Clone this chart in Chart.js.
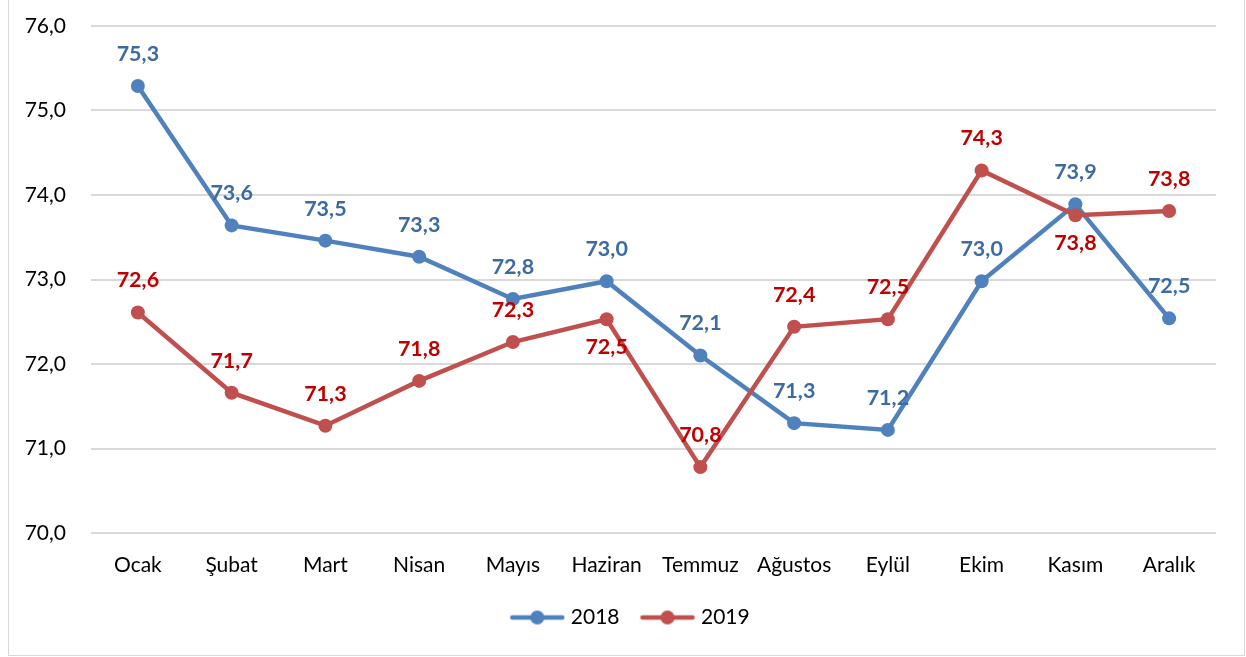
<!DOCTYPE html>
<html>
<head>
<meta charset="utf-8">
<script src="https://cdn.jsdelivr.net/npm/chart.js@4"></script>
<style>
  html, body { margin: 0; padding: 0; background: #fff; }
  #wrap { position: relative; width: 1246px; height: 657px; }
  #frame { position: absolute; left: 8px; top: -4px; width: 1237px; height: 660px; border: 1.5px solid #d9d9d9; box-sizing: border-box; }
  canvas { position: absolute; left: 0; top: 0; }
</style>
</head>
<body>
<div id="wrap">
  <div id="frame"></div>
  <canvas id="c" width="1246" height="657"></canvas>
</div>
<script>
const months = ['Ocak', 'Şubat', 'Mart', 'Nisan', 'Mayıs', 'Haziran', 'Temmuz', 'Ağustos', 'Eylül', 'Ekim', 'Kasım', 'Aralık'];
const series2018 = [75.29, 73.64, 73.46, 73.27, 72.77, 72.98, 72.10, 71.30, 71.22, 72.98, 73.89, 72.54];
const series2019 = [72.61, 71.66, 71.27, 71.80, 72.26, 72.53, 70.78, 72.44, 72.53, 74.29, 73.76, 73.81];
const seriesNames = ['2018', '2019'];
const yTicks = [70, 71, 72, 73, 74, 75, 76];
// indices whose value label sits below the point
const below2018 = [];
const below2019 = [5, 10];

const FONT = 'Lato, "Open Sans", "Liberation Sans", sans-serif';
const BLUE = '#4F81BD', RED = '#C0504D';
const BLUE_TXT = '#3C6AA3', RED_TXT = '#C00000';

function fmt(v) { return v.toFixed(1).replace('.', ','); }

function legendIcon(color) {
  const c = document.createElement('canvas');
  c.width = 56; c.height = 16;
  const g = c.getContext('2d');
  g.strokeStyle = color; g.lineWidth = 4.5; g.lineCap = 'round';
  g.beginPath(); g.moveTo(3, 8); g.lineTo(53, 8); g.stroke();
  g.fillStyle = color;
  g.beginPath(); g.arc(28, 8, 7, 0, Math.PI * 2); g.fill();
  return c;
}
const icons = [legendIcon(BLUE), legendIcon(RED)];

const valueLabels = {
  id: 'valueLabels',
  afterLayout(chart) {
    // centre the legend on the framed area rather than the canvas minus right padding
    chart.legend.left += 24;
    chart.legend.right += 24;
  },
  afterDatasetsDraw(chart) {
    const ctx = chart.ctx;
    ctx.save();
    ctx.font = 'bold 21.5px ' + FONT;
    ctx.textAlign = 'center';
    ctx.textBaseline = 'middle';
    chart.data.datasets.forEach((ds, di) => {
      const meta = chart.getDatasetMeta(di);
      const below = di === 0 ? below2018 : below2019;
      ctx.fillStyle = di === 0 ? BLUE_TXT : RED_TXT;
      meta.data.forEach((pt, i) => {
        const dy = below.includes(i) ? 28 : -32;
        ctx.fillText(fmt(ds.data[i]), pt.x, pt.y + dy);
      });
    });
    ctx.restore();
  }
};

new Chart(document.getElementById('c'), {
  type: 'line',
  data: {
    labels: months,
    datasets: [
      { label: seriesNames[0], data: series2018, borderColor: BLUE, backgroundColor: BLUE,
        borderWidth: 4.5, pointRadius: 7, pointHoverRadius: 7, pointBackgroundColor: BLUE,
        pointBorderWidth: 0, tension: 0, order: 1 },
      { label: seriesNames[1], data: series2019, borderColor: RED, backgroundColor: RED,
        borderWidth: 4.5, pointRadius: 7, pointHoverRadius: 7, pointBackgroundColor: RED,
        pointBorderWidth: 0, tension: 0, order: 0 }
    ]
  },
  options: {
    responsive: false,
    animation: false,
    layout: { padding: { left: 0, right: 30, top: 26, bottom: 19 } },
    scales: {
      x: {
        offset: true,
        grid: { display: false, drawTicks: false },
        border: { display: false },
        ticks: { color: '#000', font: { family: FONT, size: 21 }, padding: 20, maxRotation: 0, autoSkip: false },
        afterFit(s) { s.height = 49; }
      },
      y: {
        min: 70, max: 76,
        afterBuildTicks(s) { s.ticks = yTicks.map(v => ({ value: v })); },
        grid: { color: '#d9d9d9', lineWidth: 2, drawTicks: false },
        border: { display: false },
        ticks: { color: '#000', font: { family: FONT, size: 21 }, padding: 25, callback: v => fmt(v) },
        afterFit(s) { s.width = 91; s.paddingTop = 0; s.paddingBottom = 0; }
      }
    },
    plugins: {
      tooltip: { enabled: false },
      legend: {
        position: 'bottom',
        labels: {
          usePointStyle: true,
          pointStyleWidth: 46,
          boxHeight: 16,
          padding: 25,
          color: '#000',
          font: { family: FONT, size: 21 },
          generateLabels(chart) {
            return chart.data.datasets.map((ds, i) => ({
              text: ds.label, pointStyle: icons[i], fillStyle: ds.borderColor,
              strokeStyle: ds.borderColor, lineWidth: 0, hidden: false, datasetIndex: i, fontColor: '#000'
            }));
          }
        }
      }
    }
  },
  plugins: [valueLabels]
});
</script>
</body>
</html>
